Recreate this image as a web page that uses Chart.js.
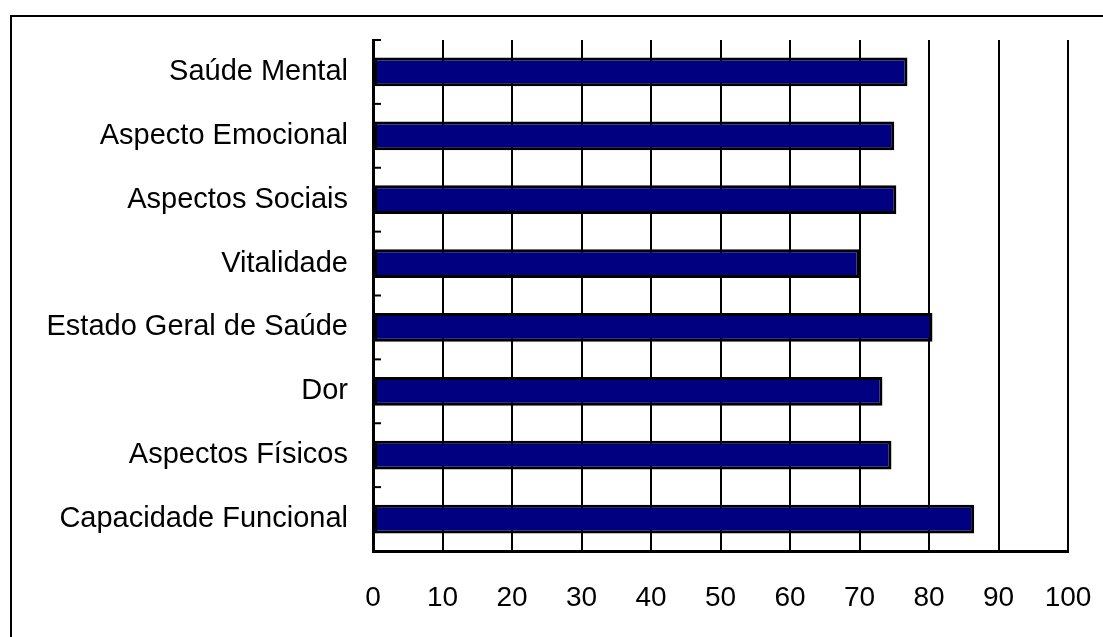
<!DOCTYPE html>
<html>
<head>
<meta charset="utf-8">
<script src="https://cdn.jsdelivr.net/npm/chart.js@4.4.1/dist/chart.umd.min.js"></script>
<style>
    html, body { margin: 0; padding: 0; background: #fff; overflow: hidden; }
    #wrap { position: relative; width: 1103px; height: 637px; }
    #frame {
        position: absolute; left: 10px; top: 15px; right: -10px; bottom: -10px;
        border-left: 2.5px solid #000; border-top: 2.5px solid #000;
    }
    canvas { position: absolute; left: 0; top: 0; }
</style>
</head>
<body>
<div id="wrap">
    <div id="frame"></div>
    <canvas id="chart" width="1103" height="637"></canvas>
</div>
<script>
// dados do gráfico (de cima para baixo)
const categorias = [
    'Saúde Mental',
    'Aspecto Emocional',
    'Aspectos Sociais',
    'Vitalidade',
    'Estado Geral de Saúde',
    'Dor',
    'Aspectos Físicos',
    'Capacidade Funcional'
];
const valores = [76.9, 75.0, 75.3, 70.0, 80.5, 73.3, 74.6, 86.5];
const escalaMin = 0;
const escalaMax = 100;
const escalaPasso = 10;

// marcas curtas do eixo vertical, entre as categorias
const marcasCategorias = {
    id: 'marcasCategorias',
    afterDatasetsDraw: function (chart) {
        const y = chart.scales.y;
        const ctx = chart.ctx;
        const n = categorias.length;
        ctx.save();
        ctx.strokeStyle = '#000';
        ctx.lineWidth = 2;
        for (let i = 0; i <= n; i++) {
            const py = y.top + i * (y.bottom - y.top) / n;
            ctx.beginPath();
            ctx.moveTo(y.right, py);
            ctx.lineTo(y.right + 8, py);
            ctx.stroke();
        }
        ctx.restore();
    }
};

Chart.defaults.font.family = '"Liberation Sans", Arial, sans-serif';
Chart.defaults.color = '#000';

new Chart(document.getElementById('chart').getContext('2d'), {
    type: 'bar',
    data: {
        labels: categorias,
        datasets: [{
            data: valores,
            backgroundColor: '#000080',
            borderColor: '#000',
            borderWidth: 3,
            borderSkipped: false,
            barPercentage: 0.45,
            categoryPercentage: 1
        }]
    },
    options: {
        indexAxis: 'y',
        responsive: false,
        animation: false,
        devicePixelRatio: 1,
        layout: { padding: { top: 40, right: 35, left: 0, bottom: 0 } },
        plugins: { legend: { display: false }, tooltip: { enabled: false } },
        scales: {
            x: {
                min: escalaMin,
                max: escalaMax,
                afterFit: function (scale) {
                    scale.height = 86;
                    scale.paddingLeft = 0;
                    scale.paddingRight = 0;
                },
                ticks: { stepSize: escalaPasso, padding: 30, font: { size: 28 } },
                grid: { color: '#000', lineWidth: 2, drawTicks: false },
                border: { color: '#000', width: 3 }
            },
            y: {
                afterFit: function (scale) {
                    scale.width = 373;
                    scale.paddingTop = 0;
                    scale.paddingBottom = 0;
                },
                ticks: { padding: 25, font: { size: 29 } },
                grid: { display: false, drawTicks: false },
                border: { color: '#000', width: 3 }
            }
        }
    },
    plugins: [marcasCategorias]
});
</script>
</body>
</html>
